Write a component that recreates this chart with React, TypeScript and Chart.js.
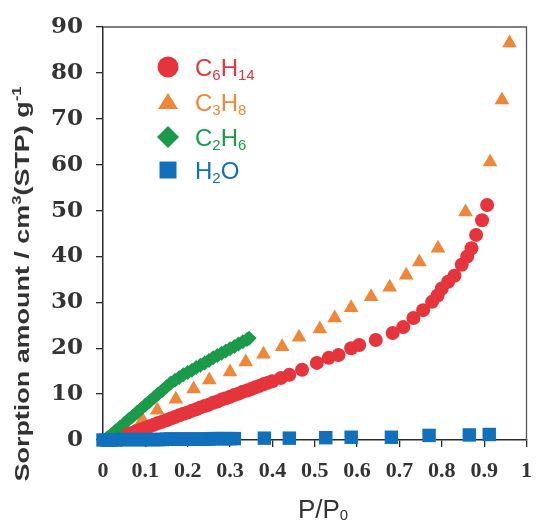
import React, { useEffect, useRef } from 'react';
import { Chart, registerables } from 'chart.js';

Chart.register(...registerables);

// ---------- data ----------
const c6h14X = [0.06, 0.07, 0.08, 0.09, 0.10, 0.11, 0.12, 0.13, 0.14, 0.15, 0.16, 0.17, 0.18, 0.19, 0.20, 0.21, 0.22, 0.23, 0.24, 0.25, 0.26, 0.27, 0.28, 0.29, 0.30, 0.31, 0.32, 0.33, 0.34, 0.35, 0.36, 0.37, 0.38, 0.39, 0.40, 0.42, 0.44, 0.47, 0.505, 0.533, 0.556, 0.586, 0.605, 0.644, 0.684, 0.709, 0.733, 0.756, 0.777, 0.79, 0.80, 0.815, 0.83, 0.847, 0.86, 0.87, 0.881, 0.895, 0.907];
const c6h14Y = [1.3, 1.6, 2.0, 2.3, 2.6, 3.0, 3.3, 3.7, 4.0, 4.3, 4.7, 5.0, 5.4, 5.7, 6.0, 6.4, 6.7, 7.1, 7.4, 7.7, 8.1, 8.4, 8.8, 9.1, 9.4, 9.8, 10.1, 10.5, 10.8, 11.1, 11.5, 11.8, 12.2, 12.5, 12.8, 13.5, 14.2, 15.3, 16.8, 17.9, 18.5, 20.0, 20.7, 21.8, 23.3, 24.6, 26.6, 28.3, 30.1, 31.5, 33.0, 34.5, 35.8, 38.2, 40.0, 41.8, 44.7, 47.9, 51.2];

const c3h8X = [0.093, 0.128, 0.172, 0.214, 0.251, 0.300, 0.337, 0.379, 0.423, 0.463, 0.512, 0.547, 0.586, 0.633, 0.677, 0.716, 0.747, 0.791, 0.856, 0.914, 0.942, 0.960];
const c3h8Y = [4.4, 6.5, 8.9, 11.1, 13.1, 14.8, 17.0, 18.7, 20.3, 22.4, 24.2, 26.6, 28.8, 31.2, 33.3, 35.9, 38.8, 41.8, 49.7, 60.6, 74.1, 86.5];

const c2h6X = [0.01, 0.02, 0.03, 0.04, 0.05, 0.06, 0.07, 0.08, 0.09, 0.10, 0.11, 0.12, 0.13, 0.14, 0.15, 0.16, 0.17, 0.18, 0.19, 0.20, 0.21, 0.22, 0.23, 0.24, 0.25, 0.26, 0.27, 0.28, 0.29, 0.30, 0.31, 0.32, 0.33, 0.34, 0.345];
const c2h6Y = [0.5, 1.2, 2.0, 2.8, 3.6, 4.4, 5.2, 6.0, 6.8, 7.6, 8.4, 9.2, 10.0, 10.8, 11.6, 12.4, 13.0, 13.6, 14.2, 14.7, 15.2, 15.8, 16.3, 16.8, 17.3, 17.9, 18.4, 18.9, 19.4, 19.9, 20.4, 20.9, 21.4, 21.9, 22.2];

const h2oX = [0.0, 0.01, 0.02, 0.03, 0.04, 0.05, 0.06, 0.07, 0.08, 0.09, 0.10, 0.11, 0.12, 0.13, 0.14, 0.15, 0.16, 0.17, 0.18, 0.19, 0.20, 0.21, 0.22, 0.23, 0.24, 0.25, 0.26, 0.27, 0.28, 0.29, 0.30, 0.31, 0.381, 0.44, 0.526, 0.586, 0.681, 0.770, 0.865, 0.912];
const h2oY = [0.0, 0.0, 0.0, 0.0, 0.1, 0.1, 0.1, 0.1, 0.1, 0.1, 0.1, 0.1, 0.1, 0.1, 0.1, 0.2, 0.2, 0.2, 0.2, 0.2, 0.2, 0.2, 0.2, 0.2, 0.2, 0.2, 0.3, 0.3, 0.3, 0.3, 0.3, 0.3, 0.4, 0.4, 0.5, 0.6, 0.6, 1.0, 1.1, 1.2];

const xTicks = [0, 0.1, 0.2, 0.3, 0.4, 0.5, 0.6, 0.7, 0.8, 0.9, 1];
const xTickLabels = ['0', '0.1', '0.2', '0.3', '0.4', '0.5', '0.6', '0.7', '0.8', '0.9', '1'];
const yTicks = [0, 10, 20, 30, 40, 50, 60, 70, 80, 90];
const yTickLabels = ['0', '10', '20', '30', '40', '50', '60', '70', '80', '90'];

// text pieces: 0 normal, -1 subscript, 1 superscript
type Seg = [string, number];
const c6h14Label: Seg[] = [['C', 0], ['6', -1], ['H', 0], ['14', -1]];
const c3h8Label: Seg[] = [['C', 0], ['3', -1], ['H', 0], ['8', -1]];
const c2h6Label: Seg[] = [['C', 0], ['2', -1], ['H', 0], ['6', -1]];
const h2oLabel: Seg[] = [['H', 0], ['2', -1], ['O', 0]];
const yTitle: Seg[] = [['Sorption amount / cm', 0], ['3', 1], ['(STP) g', 0], ['-1', 1]];
const xTitle: Seg[] = [['P/P', 0], ['0', -1]];

// ---------- styles ----------
const RED = '#e5343b';
const ORANGE = '#ef8739';
const GREEN = '#1b9a4a';
const BLUE = '#1170bb';
const AXIS = '#2a2a2a';
const TEXT = '#333333';

const legendItems = [
  { label: c6h14Label, color: RED, shape: 'circle' },
  { label: c3h8Label, color: ORANGE, shape: 'triangle' },
  { label: c2h6Label, color: GREEN, shape: 'diamond' },
  { label: h2oLabel, color: BLUE, shape: 'square' },
];

function segWidth(ctx: CanvasRenderingContext2D, segs: Seg[], big: string, small: string) {
  let w = 0;
  for (const [t, k] of segs) {
    ctx.font = k === 0 ? big : small;
    w += ctx.measureText(t).width;
  }
  return w;
}

function drawSegs(ctx: CanvasRenderingContext2D, segs: Seg[], x: number, y: number, big: string, small: string, subOff: number, supOff: number) {
  let cx = x;
  ctx.textAlign = 'left';
  ctx.textBaseline = 'alphabetic';
  for (const [t, k] of segs) {
    ctx.font = k === 0 ? big : small;
    const dy = k === -1 ? subOff : k === 1 ? -supOff : 0;
    ctx.fillText(t, cx, y + dy);
    cx += ctx.measureText(t).width;
  }
}

function drawMarker(ctx: CanvasRenderingContext2D, shape: string, x: number, y: number, color: string) {
  ctx.fillStyle = color;
  ctx.beginPath();
  if (shape === 'circle') {
    ctx.arc(x, y, 10.5, 0, Math.PI * 2);
  } else if (shape === 'triangle') {
    ctx.moveTo(x, y - 9);
    ctx.lineTo(x + 10, y + 7);
    ctx.lineTo(x - 10, y + 7);
    ctx.closePath();
  } else if (shape === 'diamond') {
    ctx.moveTo(x, y - 11);
    ctx.lineTo(x + 11, y);
    ctx.lineTo(x, y + 11);
    ctx.lineTo(x - 11, y);
    ctx.closePath();
  } else {
    ctx.rect(x - 8.5, y - 8.5, 17, 17);
  }
  ctx.fill();
}

const decorPlugin = {
  id: 'decor',
  beforeDatasetsDraw(chart: any) {
    const { ctx, chartArea: a } = chart;
    ctx.save();
    ctx.strokeStyle = '#555555';
    ctx.lineWidth = 1.3;
    ctx.beginPath();
    ctx.moveTo(a.left, a.top);
    ctx.lineTo(a.right, a.top);
    ctx.lineTo(a.right, a.bottom);
    ctx.stroke();
    ctx.restore();
  },
  afterDraw(chart: any) {
    const { ctx } = chart;
    ctx.save();
    // legend
    const rows = [67, 102, 137, 170];
    legendItems.forEach((it, i) => {
      drawMarker(ctx, it.shape, 168, rows[i], it.color);
      ctx.fillStyle = it.color;
      drawSegs(ctx, it.label, 195, rows[i] + 9, '24px "Liberation Sans"', '15px "Liberation Sans"', 4, 0);
    });
    // y title (stretched along its length like the reference)
    const bigY = 'bold 21px "Liberation Sans"';
    const smallY = 'bold 13px "Liberation Sans"';
    const wY = segWidth(ctx, yTitle, bigY, smallY);
    const targetLen = 395;
    ctx.translate(29, 284);
    ctx.rotate(-Math.PI / 2);
    ctx.scale(targetLen / wY, 1);
    ctx.fillStyle = TEXT;
    drawSegs(ctx, yTitle, -wY / 2, 0, bigY, smallY, 0, 8);
    ctx.restore();
    ctx.save();
    // x title
    const bigX = '26px "Liberation Sans"';
    const smallX = '15px "Liberation Sans"';
    const wX = segWidth(ctx, xTitle, bigX, smallX);
    ctx.fillStyle = TEXT;
    drawSegs(ctx, xTitle, 323 - wX / 2, 518, bigX, smallX, 2, 0);
    ctx.restore();
  },
};

export default function App() {
  const ref = useRef<HTMLCanvasElement | null>(null);
  useEffect(() => {
    document.body.style.margin = '0';
    const toPts = (xs: number[], ys: number[]) => xs.map((x, i) => ({ x, y: ys[i] }));
    const chart = new Chart(ref.current as HTMLCanvasElement, {
      type: 'scatter',
      data: {
        datasets: [
          { label: 'H2O', data: toPts(h2oX, h2oY), pointStyle: 'rect', pointRadius: 9.5, backgroundColor: BLUE, borderWidth: 0, order: 0 },
          { label: 'C6H14', data: toPts(c6h14X, c6h14Y), pointStyle: 'circle', pointRadius: 7, backgroundColor: RED, borderWidth: 0, order: 1 },
          { label: 'C2H6', data: toPts(c2h6X, c2h6Y), pointStyle: 'rectRot', pointRadius: 7.5, backgroundColor: GREEN, borderWidth: 0, order: 2 },
          { label: 'C3H8', data: toPts(c3h8X, c3h8Y), pointStyle: 'triangle', pointRadius: 8.5, backgroundColor: ORANGE, borderWidth: 0, order: 3 },
        ] as any,
      },
      options: {
        animation: false,
        responsive: false,
        devicePixelRatio: 1,
        clip: false as any,
        layout: { padding: { top: 27, right: 3, left: 0, bottom: 0 } },
        plugins: { legend: { display: false }, tooltip: { enabled: false } },
        elements: { point: { hoverRadius: 0 } },
        scales: {
          x: {
            type: 'linear',
            min: 0,
            max: 1,
            afterBuildTicks: (s: any) => { s.ticks = xTicks.map((v) => ({ value: v })); },
            ticks: {
              callback: (_v: any, i: number) => xTickLabels[i],
              font: { family: '"Liberation Serif"', size: 22, weight: 'bold' },
              color: TEXT,
              padding: 11,
              maxRotation: 0,
              autoSkip: false,
            },
            grid: { drawOnChartArea: false, drawTicks: true, tickLength: 7, color: AXIS, lineWidth: 1.3 },
            border: { display: true, color: AXIS, width: 1.5 },
            afterFit: (s: any) => { s.height = 82; s.paddingLeft = 0; s.paddingRight = 0; },
          },
          y: {
            type: 'linear',
            min: 0,
            max: 90,
            afterBuildTicks: (s: any) => { s.ticks = yTicks.map((v) => ({ value: v })); },
            ticks: {
              callback: (_v: any, i: number) => yTickLabels[i],
              font: { family: '"DejaVu Serif"', size: 23, weight: 'bold' },
              color: TEXT,
              padding: 13,
              autoSkip: false,
            },
            grid: { drawOnChartArea: false, drawTicks: true, tickLength: 7, color: AXIS, lineWidth: 1.3 },
            border: { display: true, color: AXIS, width: 1.5 },
            afterFit: (s: any) => { s.width = 103; s.paddingTop = 0; s.paddingBottom = 0; },
          },
        },
      } as any,
      plugins: [decorPlugin],
    });
    return () => chart.destroy();
  }, []);
  return <canvas ref={ref} width={536} height={522} style={{ display: 'block' }} />;
}
